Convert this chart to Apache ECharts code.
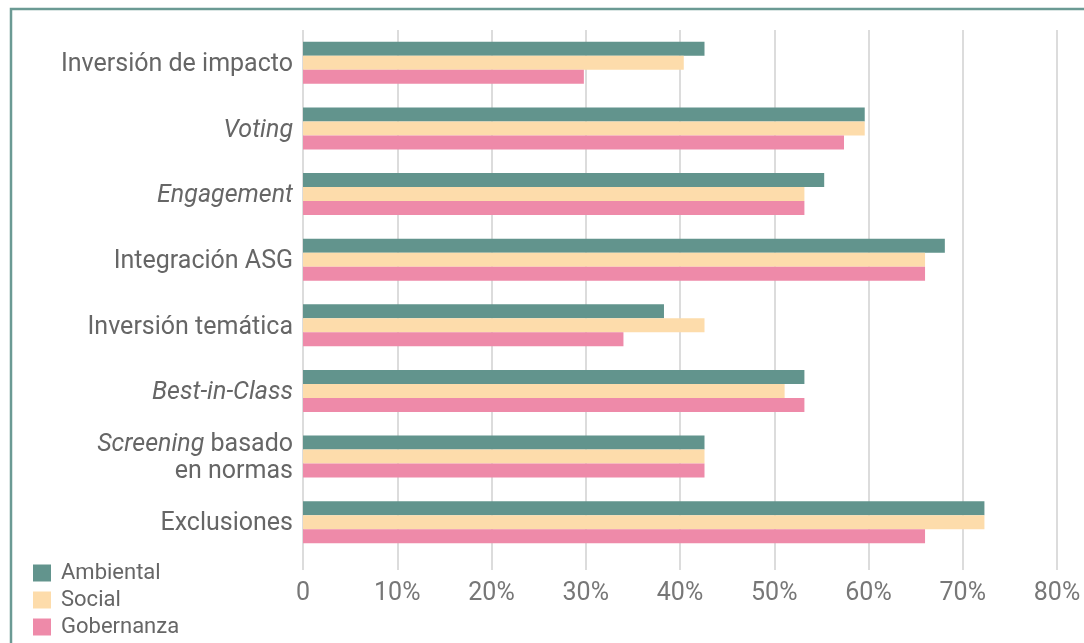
<!DOCTYPE html>
<html>
<head>
<meta charset="utf-8">
<script src="https://cdn.jsdelivr.net/npm/echarts@6/dist/echarts.min.js"></script>
<style>
html,body{margin:0;padding:0;background:#fff;overflow:hidden;}
#c{width:1084px;height:643px;}
</style>
</head>
<body>
<div id="c"></div>
<script>
const categories = ['Inversión de impacto','Voting','Engagement','Integración ASG','Inversión temática','Best-in-Class','Screening basado en normas','Exclusiones'];
const ambiental = [42.6, 59.6, 55.3, 68.1, 38.3, 53.2, 42.6, 72.3];
const social    = [40.4, 59.6, 53.2, 66.0, 42.6, 51.1, 42.6, 72.3];
const gobernanza= [29.8, 57.4, 53.2, 66.0, 34.0, 53.2, 42.6, 66.0];
const seriesNames = ['Ambiental','Social','Gobernanza'];
const xTicks = [0,10,20,30,40,50,60,70,80];

const labelMap = {
  'Voting': '{i|Voting}',
  'Engagement': '{i|Engagement}',
  'Best-in-Class': '{i|Best-in-Class}',
  'Screening basado en normas': '{i|Screening}{n| basado}\n{n|en normas}'
};

const chart = echarts.init(document.getElementById('c'));
const colors = ['#62948d','#fddcab','#ee8aa9'];
const font = 'Roboto';
const fs = 25;
chart.setOption({
  backgroundColor: '#ffffff',
  color: colors,
  animation: false,
  graphic: [{
    type: 'polyline', silent: true,
    shape: {points: [[1100, 9], [11, 9], [11, 660]]},
    style: {fill: 'none', stroke: '#6b9a94', lineWidth: 2.5}
  }],
  legend: {
    orient: 'vertical', left: 33, top: 562, height: 200, itemGap: 5, padding: 0,
    itemWidth: 18, itemHeight: 17, icon: 'rect',
    textStyle: {fontFamily: font, fontSize: 22, color: '#666', padding: [0,0,0,5]},
    data: seriesNames
  },
  grid: {left: 303, right: 27, top: 30, bottom: 88, containLabel: false},
  xAxis: {
    type: 'value', min: xTicks[0], max: xTicks[xTicks.length-1], interval: 10,
    axisLine: {show: false},
    axisTick: {show: true, length: 15, lineStyle: {color: '#dcdcdc', width: 2}},
    splitLine: {show: true, lineStyle: {color: '#dcdcdc', width: 2}},
    axisLabel: {
      margin: 26, fontFamily: font, fontSize: fs, color: '#777',
      formatter: v => v === 0 ? '0' : v + '%'
    }
  },
  yAxis: {
    type: 'category', inverse: true, data: categories,
    axisLine: {show: false}, axisTick: {show: false},
    axisLabel: {
      margin: 10, fontFamily: font, fontSize: fs, color: '#666', lineHeight: 27,
      padding: [4, 0, 0, 0],
      formatter: v => labelMap[v] || v,
      rich: {
        i: {fontFamily: font, fontSize: fs, color: '#666', fontStyle: 'italic', lineHeight: 27},
        n: {fontFamily: font, fontSize: fs, color: '#666', lineHeight: 27}
      }
    }
  },
  series: [
    {name: seriesNames[0], type: 'bar', data: ambiental, barGap: '0%', barCategoryGap: '36%'},
    {name: seriesNames[1], type: 'bar', data: social, barGap: '0%', barCategoryGap: '36%'},
    {name: seriesNames[2], type: 'bar', data: gobernanza, barGap: '0%', barCategoryGap: '36%'}
  ]
});
</script>
</body>
</html>
